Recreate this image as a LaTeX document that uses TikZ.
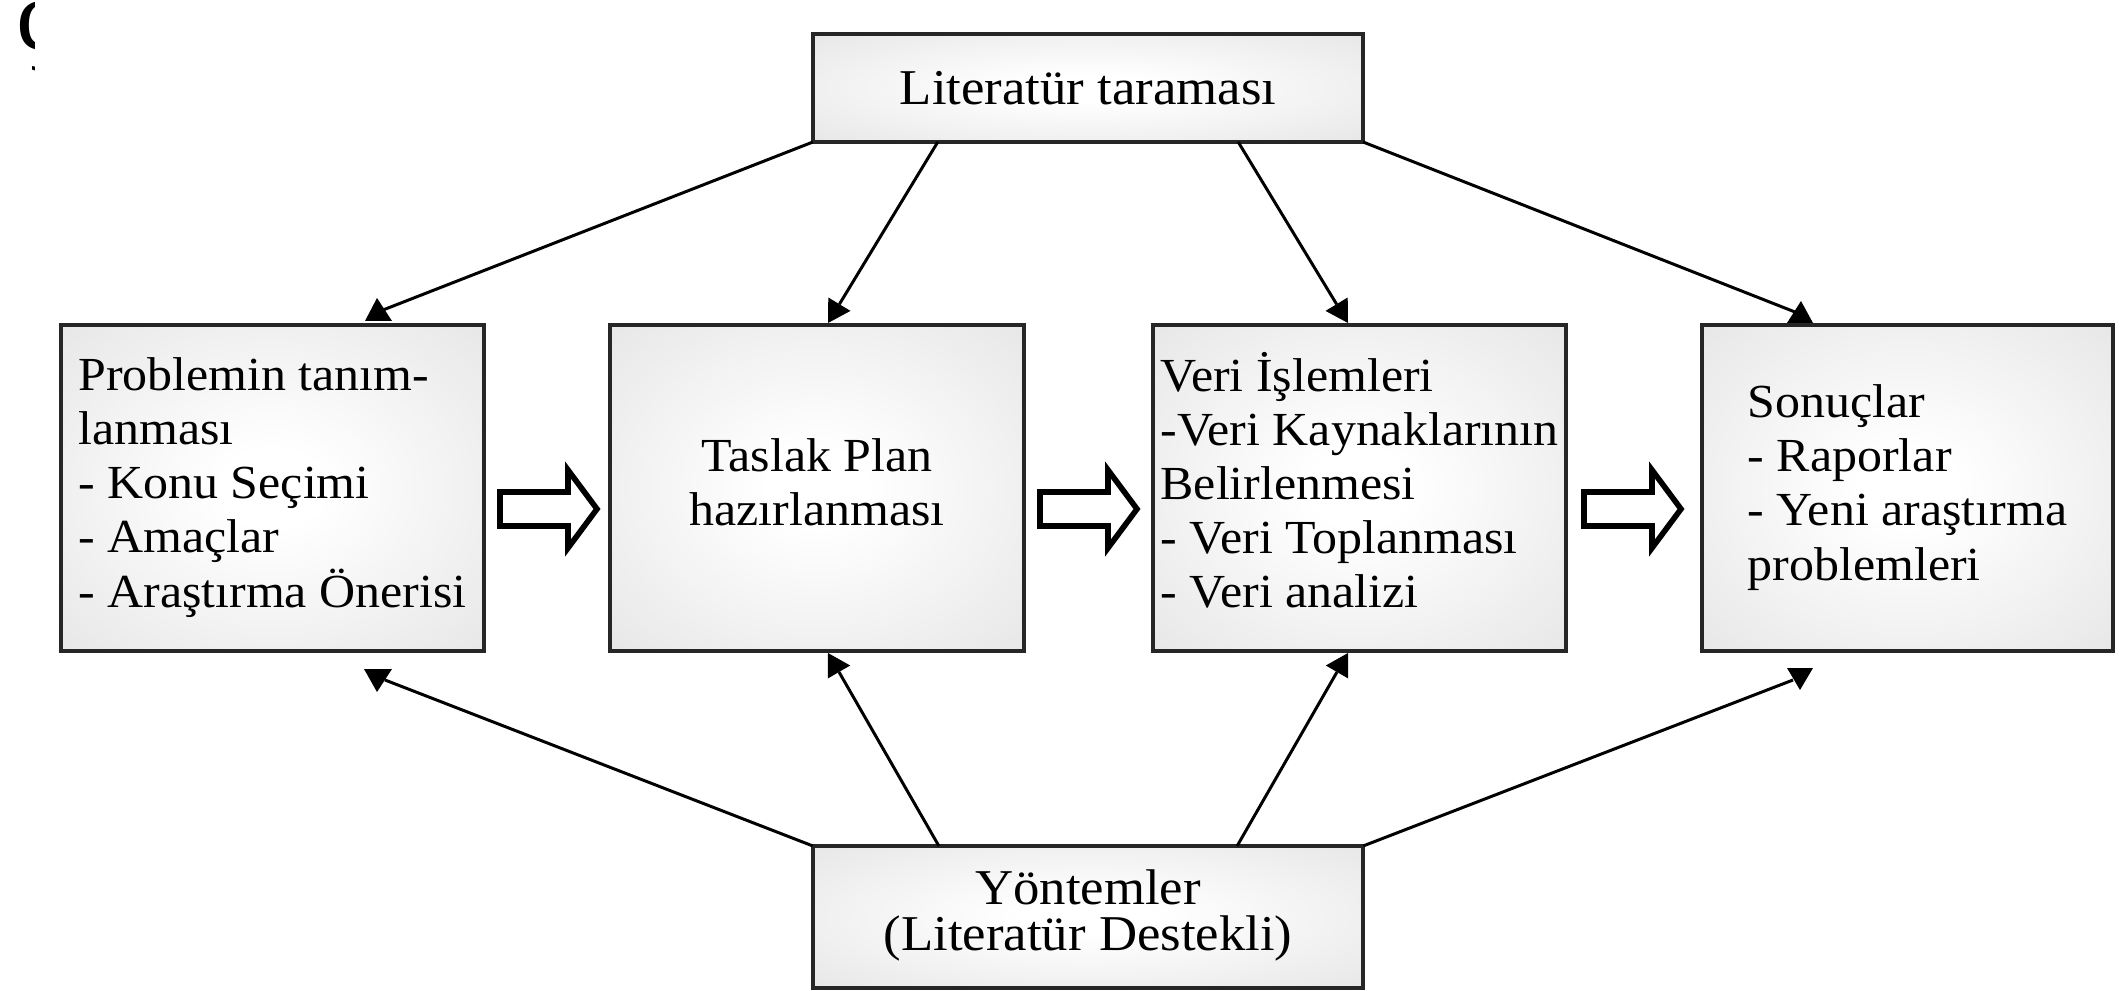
\documentclass[tikz,border=0pt]{standalone}
\usepackage{fontspec}
\setmainfont{Liberation Serif}
\usepackage{graphicx}
\usetikzlibrary{calc}
\definecolor{boxedge}{gray}{0.86}
\pgfdeclareradialshading{boxshade}{\pgfpoint{0bp}{0bp}}{color(0bp)=(white); color(6bp)=(white); color(50bp)=(boxedge); color(75bp)=(boxedge)}
\newcommand{\sqz}[1]{\scalebox{1}[0.95]{#1}}
\newcommand{\bodyfont}{\fontsize{14.2}{16.2}\selectfont}
\newcommand{\outerfont}{\fontsize{15}{14.2}\selectfont}
\begin{document}
\begin{tikzpicture}[x=0.01cm,y=-0.01cm,
  box/.style={draw=black!85, line width=1pt, shade, shading=boxshade, inner sep=0pt, outer sep=0pt},
  conn/.style={line width=0.85pt, black},
  tiphead/.style={fill=black},
  blockarr/.pic={\draw[line width=1.6pt, fill=white, line join=miter, miter limit=10]
     (3,-17) -- (71,-17) -- (71,-39) -- (100,0) -- (71,39) -- (71,17) -- (3,17) -- cycle;}
]
\useasboundingbox (0,0) rectangle (2126,991);

% clipped glyph at top-left
\begin{scope}
  \clip (0,0) rectangle (34,80);
  \node[anchor=north west, inner sep=0pt, outer sep=0pt] (cut) at (17,1) {\fontsize{29}{29}\selectfont ç};
\end{scope}

% boxes
\node[box, minimum width=5.50cm, minimum height=1.08cm] (lit) at (1088,88)
  {\raisebox{-0.05cm}{\sqz{\outerfont Literatür taraması}}};
\node[box, minimum width=5.50cm, minimum height=1.42cm] (meth) at (1088,917)
  {\raisebox{-0.07cm}{\sqz{\outerfont\begin{tabular}{@{}c@{}}Yöntemler\\[-0.9pt](Literatür Destekli)\end{tabular}}}};
\node[box, minimum width=4.23cm, minimum height=3.26cm] (p1) at (272.5,488)
  {\sqz{\bodyfont\begin{tabular}{@{}l@{}}Problemin tanım-\\lanması\\- Konu Seçimi\\- Amaçlar\\- Araştırma Önerisi\end{tabular}}};
\node[box, minimum width=4.14cm, minimum height=3.26cm] (p2) at (817,488)
  {\sqz{\bodyfont\begin{tabular}{@{}c@{}}Taslak Plan\\hazırlanması\end{tabular}}};
\node[box, minimum width=4.13cm, minimum height=3.26cm] (p3) at (1359.5,488)
  {\sqz{\bodyfont\begin{tabular}{@{}l@{}}Veri İşlemleri\\-Veri Kaynaklarının\\Belirlenmesi\\- Veri Toplanması\\- Veri analizi\end{tabular}}};
\node[box, minimum width=4.11cm, minimum height=3.26cm] (p4) at (1907.5,488)
  {\sqz{\bodyfont\begin{tabular}{@{}l@{}}Sonuçlar\\- Raporlar\\- Yeni araştırma\\problemleri\end{tabular}}};

% block arrows between boxes
\pic at (497,509) {blockarr};
\pic at (1037,509) {blockarr};
\pic at (1581,509) {blockarr};

% arrow end coordinates
\coordinate (a1) at (383,310);
\coordinate (a2) at (839.4,304.2);
\coordinate (a3) at (1336.6,304.2);
\coordinate (a4) at (1795,312);
\coordinate (b1) at (385,680);
\coordinate (b2) at (839,672);
\coordinate (b3) at (1337,672);
\coordinate (b4) at (1793,680);

% connectors from literature review
\draw[conn] (lit.south west) -- (a1);
\draw[conn] ($(lit.south west)!0.227!(lit.south east)$) -- (a2);
\draw[conn] ($(lit.south west)!0.773!(lit.south east)$) -- (a3);
\draw[conn] (lit.south east) -- (a4);
% connectors from methods
\draw[conn] (meth.north west) -- (b1);
\draw[conn] ($(meth.north west)!0.229!(meth.north east)$) -- (b2);
\draw[conn] ($(meth.north west)!0.771!(meth.north east)$) -- (b3);
\draw[conn] (meth.north east) -- (b4);

% arrow heads
\fill[tiphead] (377,298) -- (365,321) -- (392,321) -- cycle;
\fill[tiphead] (850.5,310.9) -- (828.3,297.5) -- (828,323) -- cycle;
\fill[tiphead] (1325.5,310.9) -- (1347.7,297.5) -- (1348,323) -- cycle;
\fill[tiphead] (1801,301) -- (1787,323) -- (1813,323) -- cycle;
\fill[tiphead] (364,669) -- (392,669) -- (377,692) -- cycle;
\fill[tiphead] (850.2,665.5) -- (827.8,678.5) -- (828,653) -- cycle;
\fill[tiphead] (1325.8,665.5) -- (1348.2,678.5) -- (1348,653) -- cycle;
\fill[tiphead] (1787,668) -- (1813,668) -- (1800,690) -- cycle;
\end{tikzpicture}
\end{document}
